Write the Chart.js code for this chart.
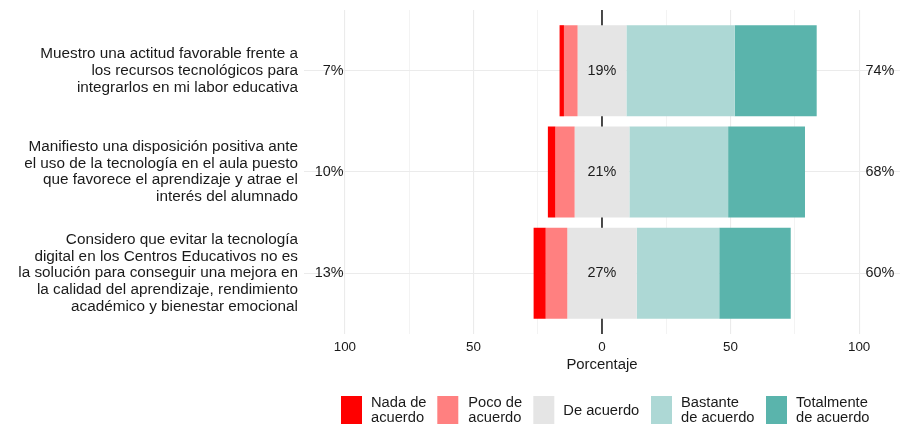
<!DOCTYPE html>
<html>
<head>
<meta charset="utf-8">
<script src="https://cdn.jsdelivr.net/npm/chart.js@4"></script>
<style>
  html, body { margin: 0; padding: 0; background: #ffffff; }
  #wrap { width: 909px; height: 427px; }
</style>
</head>
<body>
<div id="wrap"><canvas id="c" width="909" height="427"></canvas></div>
<script>
// ---- data ----
const items = [
  ["Muestro una actitud favorable frente a", "los recursos tecnológicos para", "integrarlos en mi labor educativa"],
  ["Manifiesto una disposición positiva ante", "el uso de la tecnología en el aula puesto", "que favorece el aprendizaje y atrae el", "interés del alumnado"],
  ["Considero que evitar la tecnología", "digital en los Centros Educativos no es", "la solución para conseguir una mejora en", "la calidad del aprendizaje, rendimiento", "académico y bienestar emocional"]
];
const levels = [["Nada de", "acuerdo"], ["Poco de", "acuerdo"], ["De acuerdo"], ["Bastante", "de acuerdo"], ["Totalmente", "de acuerdo"]];
const nada       = [1.7, 2.9, 4.7];
const poco       = [5.3, 7.5, 8.4];
const deAcuerdo  = [19.0, 21.3, 27.0];
const bastante   = [42.1, 38.4, 32.1];
const totalmente = [31.9, 29.9, 27.8];
const xTicks = [-100, -75, -50, -25, 0, 25, 50, 75, 100];

// ---- styles ----
const colors = ["#FF0000", "#FF8080", "#E5E5E5", "#ADD8D5", "#5AB4AC"];
const FONT = "'Liberation Sans', Arial, Helvetica, sans-serif";
const TXT = "#1A1A1A";
Chart.defaults.font.family = FONT;
Chart.defaults.color = TXT;

// build floating ranges (diverging around 0, neutral centered)
const ranges = [[], [], [], [], []];
items.forEach((_, i) => {
  const left = -(nada[i] + poco[i] + deAcuerdo[i] / 2);
  ranges[0].push({ x: [left, left + nada[i]], y: i });
  ranges[1].push({ x: [left + nada[i], left + nada[i] + poco[i]], y: i });
  const g = deAcuerdo[i] / 2;
  ranges[2].push({ x: [-g, g], y: i });
  ranges[3].push({ x: [g, g + bastante[i]], y: i });
  ranges[4].push({ x: [g + bastante[i], g + bastante[i] + totalmente[i]], y: i });
});

const datasets = levels.map((lab, k) => ({
  label: lab.join(" "),
  data: ranges[k],
  backgroundColor: colors[k],
  borderWidth: 0,
  grouped: false,
  barPercentage: 0.9,
  categoryPercentage: 1.0
}));

const zeroLine = {
  id: 'zeroLine',
  beforeDatasetsDraw(chart) {
    const { ctx, chartArea, scales } = chart;
    const x = scales.x.getPixelForValue(0);
    ctx.save();
    ctx.strokeStyle = "#000000";
    ctx.lineWidth = 1.4;
    ctx.beginPath();
    ctx.moveTo(x, chartArea.top);
    ctx.lineTo(x, chartArea.bottom);
    ctx.stroke();
    ctx.restore();
  }
};

const pctLabels = {
  id: 'pctLabels',
  afterDatasetsDraw(chart) {
    const { ctx, scales } = chart;
    ctx.save();
    ctx.font = "14.4px " + FONT;
    ctx.fillStyle = TXT;
    ctx.textBaseline = "middle";
    items.forEach((_, i) => {
      const y = scales.y.getPixelForValue(i);
      const low = Math.round(nada[i] + poco[i]);
      const mid = Math.round(deAcuerdo[i]);
      const high = Math.round(bastante[i] + totalmente[i]);
      ctx.textAlign = "right";
      ctx.fillText(low + "%", scales.x.getPixelForValue(-100.5), y);
      ctx.textAlign = "center";
      ctx.fillText(mid + "%", scales.x.getPixelForValue(0), y);
      ctx.textAlign = "left";
      ctx.fillText(high + "%", scales.x.getPixelForValue(102.5), y);
    });
    ctx.restore();
  }
};

const legendBoxes = [341, 437.3, 533.3, 651, 766];
const legendText = [371, 468.3, 563.3, 681, 796];
const bottomLegend = {
  id: 'bottomLegend',
  afterDraw(chart) {
    const { ctx } = chart;
    ctx.save();
    ctx.font = "14.7px " + FONT;
    ctx.textBaseline = "middle";
    ctx.textAlign = "left";
    levels.forEach((lab, k) => {
      ctx.fillStyle = colors[k];
      ctx.fillRect(legendBoxes[k], 396, 21, 28);
      ctx.fillStyle = TXT;
      const lh = 15.5;
      const cy = 410.5;
      lab.forEach((line, j) => {
        ctx.fillText(line, legendText[k], cy + (j - (lab.length - 1) / 2) * lh);
      });
    });
    ctx.restore();
  }
};

new Chart(document.getElementById('c'), {
  type: 'bar',
  data: { datasets },
  options: {
    indexAxis: 'y',
    responsive: false,
    animation: false,
    layout: { padding: { top: 10, right: 9, left: 0, bottom: 53 } },
    plugins: { legend: { display: false }, tooltip: { enabled: false } },
    scales: {
      x: {
        type: 'linear',
        min: -115.9,
        max: 115.9,
        offset: false,
        afterBuildTicks(scale) { scale.ticks = xTicks.map(v => ({ value: v })); },
        afterFit(scale) {
          scale.height = 40;
          scale.paddingLeft = 0; scale.paddingRight = 0;
          scale.paddingTop = 0; scale.paddingBottom = 0;
        },
        ticks: {
          autoSkip: false,
          maxRotation: 0,
          padding: 5,
          color: TXT,
          font: { size: 13.4 },
          callback: (v) => (v % 50 === 0 ? String(Math.abs(v)) : "")
        },
        grid: {
          drawTicks: false,
          offset: false,
          color: "#EBEBEB",
          lineWidth: (c) => (c.tick && c.tick.value % 50 === 0 ? 1.1 : 0.6)
        },
        border: { display: false },
        title: {
          display: true,
          text: "Porcentaje",
          color: TXT,
          font: { size: 14.9 },
          padding: { top: 0, bottom: 0 }
        }
      },
      y: {
        type: 'linear',
        min: -0.6,
        max: 2.6,
        reverse: true,
        offset: false,
        afterBuildTicks(scale) { scale.ticks = items.map((_, i) => ({ value: i })); },
        afterFit(scale) {
          scale.width = 304;
          scale.paddingTop = 0; scale.paddingBottom = 0;
          scale.paddingLeft = 0; scale.paddingRight = 0;
        },
        ticks: {
          autoSkip: false,
          padding: 6,
          color: TXT,
          font: { size: 15.3, lineHeight: 1.08 },
          callback: (v) => items[v] || ""
        },
        grid: { drawTicks: false, offset: false, color: "#EBEBEB", lineWidth: 1.1 },
        border: { display: false }
      }
    }
  },
  plugins: [zeroLine, pctLabels, bottomLegend]
});
</script>
</body>
</html>
